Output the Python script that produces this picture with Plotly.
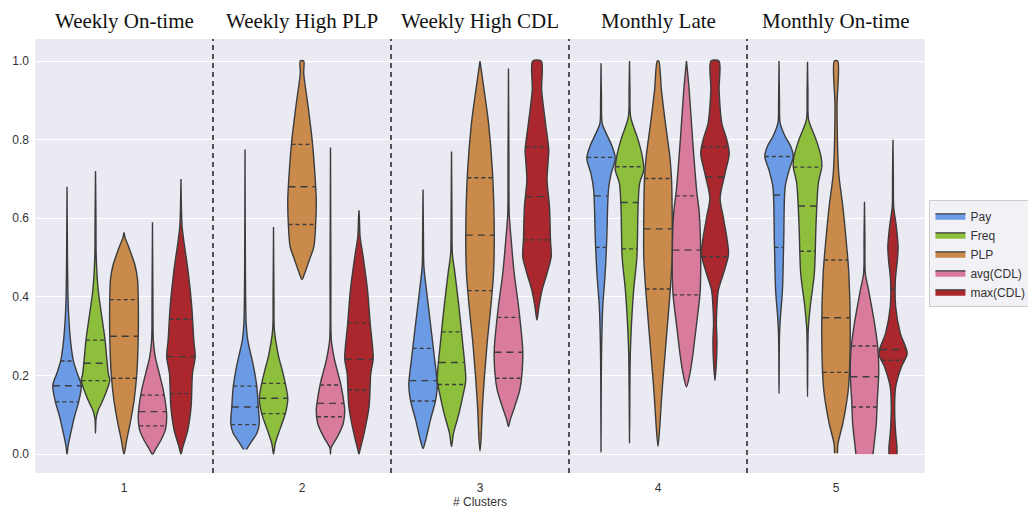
import plotly.graph_objects as go
import numpy as np

clusters = ["1", "2", "3", "4", "5"]
titles = ["Weekly On-time", "Weekly High PLP", "Weekly High CDL", "Monthly Late", "Monthly On-time"]
series = ["Pay", "Freq", "PLP", "avg(CDL)", "max(CDL)"]
colors = ["#6C9BE6", "#8DBF3C", "#C98A4B", "#D97B9D", "#AA282D"]

# Violin outlines: y levels and relative half-widths, per cluster
pay_y = [
    [0.0, 0.02, 0.05, 0.095, 0.135, 0.175, 0.205, 0.24, 0.29, 0.35, 0.41, 0.5, 0.68],
    [0.012, 0.027, 0.053, 0.078, 0.12, 0.171, 0.222, 0.29, 0.332, 0.45, 0.775],
    [0.014, 0.036, 0.087, 0.137, 0.176, 0.248, 0.332, 0.417, 0.477, 0.55, 0.673],
    [0.006, 0.2, 0.29, 0.375, 0.46, 0.545, 0.672, 0.714, 0.752, 0.782, 0.816, 0.841, 0.9, 0.994],
    [0.154, 0.3, 0.35, 0.417, 0.545, 0.68, 0.723, 0.757, 0.782, 0.808, 0.842, 0.9, 1.0],
]
pay_w = [
    [0.0, 0.07, 0.24, 0.52, 0.83, 1.0, 0.72, 0.43, 0.24, 0.12, 0.06, 0.03, 0.0],
    [0.1, 0.36, 0.83, 1.0, 0.93, 0.83, 0.6, 0.19, 0.08, 0.03, 0.0],
    [0.0, 0.19, 0.52, 0.88, 1.0, 0.79, 0.52, 0.24, 0.06, 0.03, 0.0],
    [0.0, 0.02, 0.05, 0.12, 0.29, 0.4, 0.52, 0.71, 1.0, 0.79, 0.36, 0.08, 0.03, 0.0],
    [0.0, 0.03, 0.1, 0.24, 0.33, 0.43, 0.71, 1.0, 0.83, 0.43, 0.08, 0.03, 0.0],
]
pay_q = [[0.133, 0.174, 0.237], [0.075, 0.12, 0.173], [0.135, 0.187, 0.269],
         [0.526, 0.657, 0.755], [0.526, 0.659, 0.757]]

freq_y = [
    [0.053, 0.09, 0.112, 0.13, 0.154, 0.188, 0.205, 0.29, 0.33, 0.417, 0.5, 0.6, 0.72],
    [0.0, 0.027, 0.061, 0.103, 0.142, 0.205, 0.248, 0.316, 0.4, 0.578],
    [0.019, 0.053, 0.103, 0.154, 0.188, 0.29, 0.375, 0.46, 0.51, 0.6, 0.77],
    [0.029, 0.248, 0.332, 0.417, 0.502, 0.63, 0.689, 0.723, 0.757, 0.8, 0.858, 0.93, 1.0],
    [0.146, 0.316, 0.375, 0.46, 0.587, 0.689, 0.731, 0.757, 0.8, 0.85, 0.92, 0.998],
]
freq_w = [
    [0.0, 0.04, 0.19, 0.43, 0.71, 1.0, 0.9, 0.67, 0.52, 0.19, 0.05, 0.03, 0.0],
    [0.0, 0.12, 0.43, 0.83, 1.0, 0.67, 0.36, 0.06, 0.03, 0.0],
    [0.0, 0.14, 0.52, 0.83, 1.0, 0.76, 0.52, 0.24, 0.06, 0.03, 0.0],
    [0.0, 0.05, 0.14, 0.29, 0.52, 0.6, 0.71, 1.0, 0.9, 0.6, 0.08, 0.03, 0.0],
    [0.0, 0.05, 0.19, 0.48, 0.6, 0.76, 1.0, 0.95, 0.6, 0.08, 0.03, 0.0],
]
freq_q = [[0.187, 0.231, 0.29], [0.103, 0.142, 0.18], [0.177, 0.233, 0.311],
          [0.522, 0.64, 0.731], [0.516, 0.631, 0.73]]

plp_y = [
    [0.0, 0.036, 0.078, 0.137, 0.205, 0.3, 0.393, 0.444, 0.478, 0.53, 0.55, 0.564],
    [0.444, 0.46, 0.494, 0.527, 0.578, 0.646, 0.715, 0.8, 0.884, 0.969, 1.0],
    [0.008, 0.036, 0.12, 0.205, 0.29, 0.375, 0.46, 0.56, 0.715, 0.842, 0.926, 1.0],
    [0.02, 0.078, 0.163, 0.248, 0.332, 0.417, 0.502, 0.6, 0.7, 0.757, 0.842, 0.926, 1.0],
    [0.002, 0.027, 0.078, 0.163, 0.3, 0.46, 0.545, 0.63, 0.715, 0.884, 1.0],
]
plp_w = [
    [0.0, 0.19, 0.43, 0.71, 0.9, 1.0, 1.0, 0.95, 0.79, 0.3, 0.08, 0.0],
    [0.0, 0.19, 0.52, 0.83, 0.95, 1.0, 0.9, 0.71, 0.43, 0.12, 0.12],
    [0.0, 0.07, 0.17, 0.33, 0.52, 0.76, 0.95, 1.0, 0.88, 0.6, 0.29, 0.0],
    [0.0, 0.14, 0.29, 0.48, 0.67, 0.86, 1.0, 1.0, 0.95, 0.83, 0.52, 0.24, 0.05],
    [0.1, 0.14, 0.48, 0.86, 1.0, 0.9, 0.71, 0.48, 0.19, 0.07, 0.12],
]
plp_q = [[0.193, 0.3, 0.393], [0.584, 0.68, 0.788], [0.416, 0.557, 0.703],
         [0.42, 0.573, 0.701], [0.208, 0.347, 0.494]]

avg_y = [
    [0.0, 0.014, 0.036, 0.061, 0.095, 0.12, 0.163, 0.205, 0.248, 0.29, 0.4, 0.59],
    [0.0, 0.015, 0.023, 0.044, 0.078, 0.112, 0.129, 0.18, 0.239, 0.29, 0.45, 0.78],
    [0.07, 0.087, 0.12, 0.163, 0.205, 0.265, 0.375, 0.46, 0.545, 0.612, 0.75, 0.981],
    [0.171, 0.205, 0.248, 0.332, 0.409, 0.5, 0.612, 0.672, 0.8, 0.926, 1.0],
    [0.0, 0.036, 0.078, 0.137, 0.205, 0.265, 0.332, 0.417, 0.46, 0.55, 0.642],
]
avg_w = [
    [0.0, 0.24, 0.6, 0.9, 1.0, 0.95, 0.76, 0.48, 0.19, 0.06, 0.03, 0.0],
    [0.0, 0.03, 0.14, 0.48, 0.9, 1.0, 0.95, 0.71, 0.29, 0.06, 0.03, 0.0],
    [0.0, 0.12, 0.43, 0.79, 0.95, 1.0, 0.71, 0.4, 0.19, 0.05, 0.03, 0.0],
    [0.0, 0.24, 0.43, 0.71, 0.95, 1.0, 0.9, 0.71, 0.43, 0.19, 0.0],
    [0.6, 0.71, 0.83, 0.9, 1.0, 0.95, 0.71, 0.29, 0.06, 0.03, 0.0],
]
avg_q = [[0.072, 0.108, 0.15], [0.095, 0.129, 0.176], [0.193, 0.259, 0.348],
         [0.405, 0.519, 0.657], [0.12, 0.197, 0.275]]

max_y = [
    [0.0, 0.019, 0.061, 0.12, 0.205, 0.248, 0.29, 0.375, 0.46, 0.545, 0.58, 0.63, 0.7],
    [0.0, 0.01, 0.053, 0.12, 0.205, 0.243, 0.332, 0.418, 0.503, 0.553, 0.6, 0.62],
    [0.341, 0.375, 0.417, 0.46, 0.502, 0.545, 0.629, 0.697, 0.748, 0.773, 0.842, 0.926, 1.0],
    [0.188, 0.248, 0.29, 0.332, 0.375, 0.417, 0.46, 0.509, 0.6, 0.651, 0.714, 0.765, 0.8, 0.842, 0.926, 1.0],
    [0.0, 0.019, 0.053, 0.12, 0.171, 0.223, 0.256, 0.307, 0.375, 0.443, 0.494, 0.527, 0.578, 0.63, 0.7, 0.8],
]
max_w = [
    [0.0, 0.14, 0.48, 0.71, 0.81, 1.0, 0.9, 0.76, 0.52, 0.19, 0.08, 0.03, 0.0],
    [0.0, 0.07, 0.36, 0.71, 0.83, 1.0, 0.79, 0.6, 0.29, 0.08, 0.03, 0.0],
    [0.0, 0.14, 0.36, 0.71, 1.0, 0.95, 0.88, 0.71, 0.79, 0.83, 0.6, 0.33, 0.3],
    [0.0, 0.12, 0.14, 0.1, 0.14, 0.24, 0.6, 0.95, 0.6, 0.36, 0.71, 1.0, 0.83, 0.48, 0.29, 0.28],
    [0.28, 0.28, 0.19, 0.12, 0.19, 0.6, 1.0, 0.52, 0.19, 0.17, 0.31, 0.36, 0.24, 0.05, 0.03, 0.0],
]
max_q = [[0.154, 0.248, 0.343], [0.163, 0.241, 0.334], [0.545, 0.655, 0.782],
         [0.502, 0.705, 0.782], [0.239, 0.266, 0.421]]

all_y = [pay_y, freq_y, plp_y, avg_y, max_y]
all_w = [pay_w, freq_w, plp_w, avg_w, max_w]
all_q = [pay_q, freq_q, plp_q, avg_q, max_q]

n_hue = len(series)
group_width = 0.8
slot = group_width / n_hue
half_max = slot / 2
outline = "#3C3C3C"

fig = go.Figure()

for s in range(n_hue):
    offset = -group_width / 2 + slot * (s + 0.5)
    for c in range(len(clusters)):
        ys = np.array(all_y[s][c])
        ws = np.array(all_w[s][c])
        cx = c + offset
        xs = np.concatenate([cx - half_max * ws, (cx + half_max * ws)[::-1]])
        yy = np.concatenate([ys, ys[::-1]])
        fig.add_trace(go.Scatter(
            x=xs, y=yy, mode="lines", fill="toself", fillcolor=colors[s],
            line=dict(color=outline, width=1.4, shape="spline", smoothing=0.8),
            name=series[s], legendgroup=series[s], showlegend=(c == 0),
            hoverinfo="skip"))
        for k, qv in enumerate(all_q[s][c]):
            wq = float(np.interp(qv, ys, ws)) * half_max
            fig.add_trace(go.Scatter(
                x=[cx - wq, cx + wq], y=[qv, qv], mode="lines",
                line=dict(color=outline, width=1.4,
                          dash="7px,5px" if k == 1 else "4px,3px"),
                showlegend=False, hoverinfo="skip"))

# cluster separators
for b in range(len(clusters) - 1):
    fig.add_shape(type="line", xref="x", yref="paper", x0=b + 0.5, x1=b + 0.5, y0=0, y1=1,
                  line=dict(color="#222222", width=1.5, dash="5px,4px"))

for c, t in enumerate(titles):
    fig.add_annotation(x=c, y=1.041, xref="x", yref="paper", text=t, showarrow=False,
                       yanchor="middle",
                       font=dict(family="Liberation Serif", size=21, color="#111111"))

fig.add_annotation(x=0.5, y=-0.066, xref="paper", yref="paper", text="# Clusters",
                   showarrow=False, yanchor="middle",
                   font=dict(family="Liberation Sans", size=12, color="#333333"))

fig.update_layout(
    width=1028, height=508,
    margin=dict(l=35, r=103, t=39, b=35, autoexpand=False),
    paper_bgcolor="white", plot_bgcolor="#EAEAF2",
    font=dict(family="Liberation Sans", size=12, color="#333333"),
    hovermode=False,
    legend=dict(x=1.005, y=0.505, xanchor="left", yanchor="middle",
                bgcolor="rgba(240,240,245,0.9)", bordercolor="#CCCCCC", borderwidth=1,
                font=dict(size=12, color="#333333"), tracegroupgap=0, itemwidth=30),
    xaxis=dict(range=[-0.5, 4.5], tickvals=list(range(len(clusters))), ticktext=clusters,
               showgrid=False, zeroline=False, ticks="", ticklabelstandoff=6,
               tickfont=dict(size=12)),
    yaxis=dict(range=[-0.048, 1.056], tickvals=[0, 0.2, 0.4, 0.6, 0.8, 1.0],
               tickformat=".1f", showgrid=True, gridcolor="white", gridwidth=1,
               zeroline=False, ticks="", ticklabelstandoff=5, tickfont=dict(size=12)),
)

fig.write_html("out.html", config={"displayModeBar": False, "staticPlot": True},
               post_script="document.body.style.margin='0';document.body.style.overflow='hidden';")
